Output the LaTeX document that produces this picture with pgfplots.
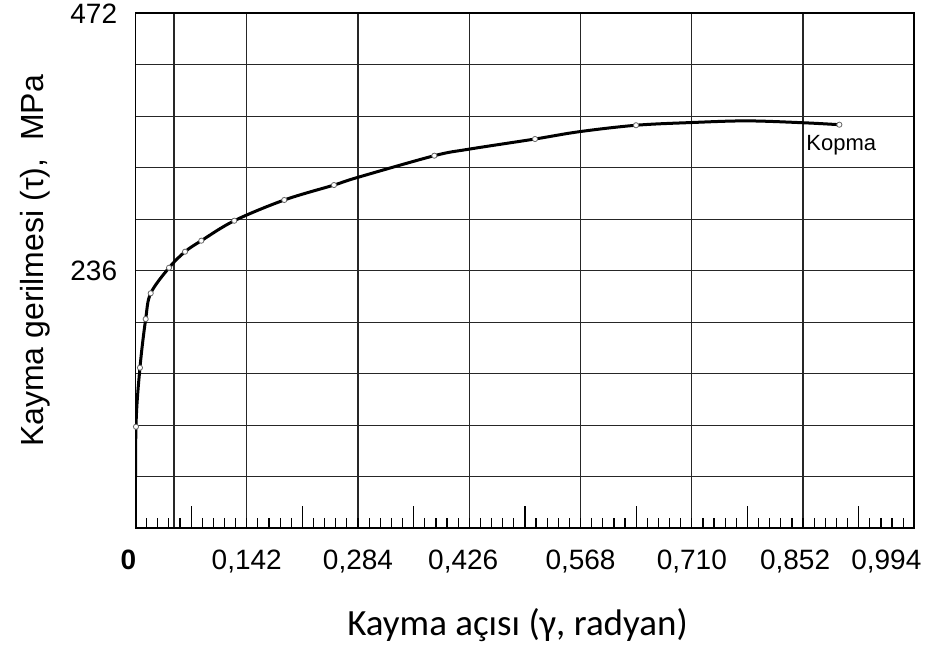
\documentclass[border=0pt]{standalone}
\usepackage{pgfplots}
\pgfplotsset{compat=1.18}
\usepackage{fontspec}
\setmainfont{Liberation Sans}
\newfontfamily\calibri{Carlito}

\begin{document}
\begin{tikzpicture}
\begin{axis}[
  at={(67.75pt,60.85pt)}, anchor=south west,
  scale only axis, width=389.4pt, height=257.5pt,
  xmin=0, xmax=0.994, ymin=0, ymax=472,
  axis line style={line width=0.9pt},
  tick pos=left, tick align=inside,
  xtick={0,0.049,0.142,0.284,0.426,0.568,0.710,0.852,0.994},
  xticklabels={\textbf{0}\kern7pt,{},{0,142},{0,284},{\kern-6pt 0,426},{0,568},{0,710},{\kern-8pt 0,852},{\kern-28pt 0,994}},
  ytick={0,47.2,94.4,141.6,188.8,236,283.2,330.4,377.6,424.8,472},
  yticklabels={,,,,,236,,,,,472},
  major tick length=0pt,
  minor xtick={0.0142,0.0284,...,0.99},
  minor tick length=5pt,
  extra x ticks={0.071,0.213,0.355,0.497,0.639,0.781,0.923},
  extra x tick labels={},
  extra x tick style={grid=none, major tick length=11pt},
  xmajorgrids, ymajorgrids,
  grid style={black!85, line width=0.65pt},
  tick style={black, line width=0.6pt},
  every tick label/.append style={font=\fontsize{14}{14}\selectfont},
  xticklabel style={inner sep=0pt, yshift=-10.5pt},
  yticklabel style={inner sep=0pt, xshift=-9pt},
  xlabel={Kayma açısı (γ, radyan)},
  xlabel style={at={(axis description cs:0.4905,-0.1878)}, anchor=center, font=\fontsize{18.5}{18.5}\selectfont\calibri},
  ylabel={Kayma gerilmesi (τ),\ \ MPa},
  ylabel style={at={(axis description cs:-0.129,0.519)}, anchor=center, font=\fontsize{16}{16}\selectfont},
]
\addplot[black, line width=1.5pt, smooth, tension=0.55] coordinates {
 (0,0) (0.0006,93.1) (0.0057,147.2) (0.0130,191.8) (0.0194,215.4)
 (0.0428,238.8) (0.0632,253.5) (0.0840,263.6) (0.1261,281.9)
 (0.1899,300.9) (0.2533,314.6) (0.2831,321.5) (0.3814,341.5) (0.424,347.3)
 (0.5099,356.8) (0.5664,363.5) (0.6388,369.4) (0.7099,371.9) (0.780,373.4)
 (0.852,371.7) (0.8983,369.9)
};
\addplot[only marks, mark=*, mark size=1.3pt, mark options={fill=white, draw=black!60, line width=0.4pt}] coordinates {
 (0.0006,93.1) (0.0057,147.2) (0.0130,191.8) (0.0194,215.4)
 (0.0428,238.8) (0.0632,253.5) (0.0840,263.6) (0.1261,281.9)
 (0.1899,300.9) (0.2533,314.6) (0.3814,341.5) (0.5099,356.8)
 (0.6388,369.4) (0.8983,369.9)
};
\draw[line width=1.5pt] (rel axis cs:0,0) -- (rel axis cs:1,0);
\node[anchor=west, inner sep=0pt, font=\fontsize{11}{11}\selectfont] at (axis cs:0.8558,351.3) {Kopma};
\node[anchor=east, inner sep=0pt, xshift=-13.75pt, font=\fontsize{14}{14}\selectfont] at (axis cs:0,19.5) {0};
\end{axis}
\pgfresetboundingbox
\path (0,0) rectangle (470.5pt,325pt);
\end{tikzpicture}
\end{document}
